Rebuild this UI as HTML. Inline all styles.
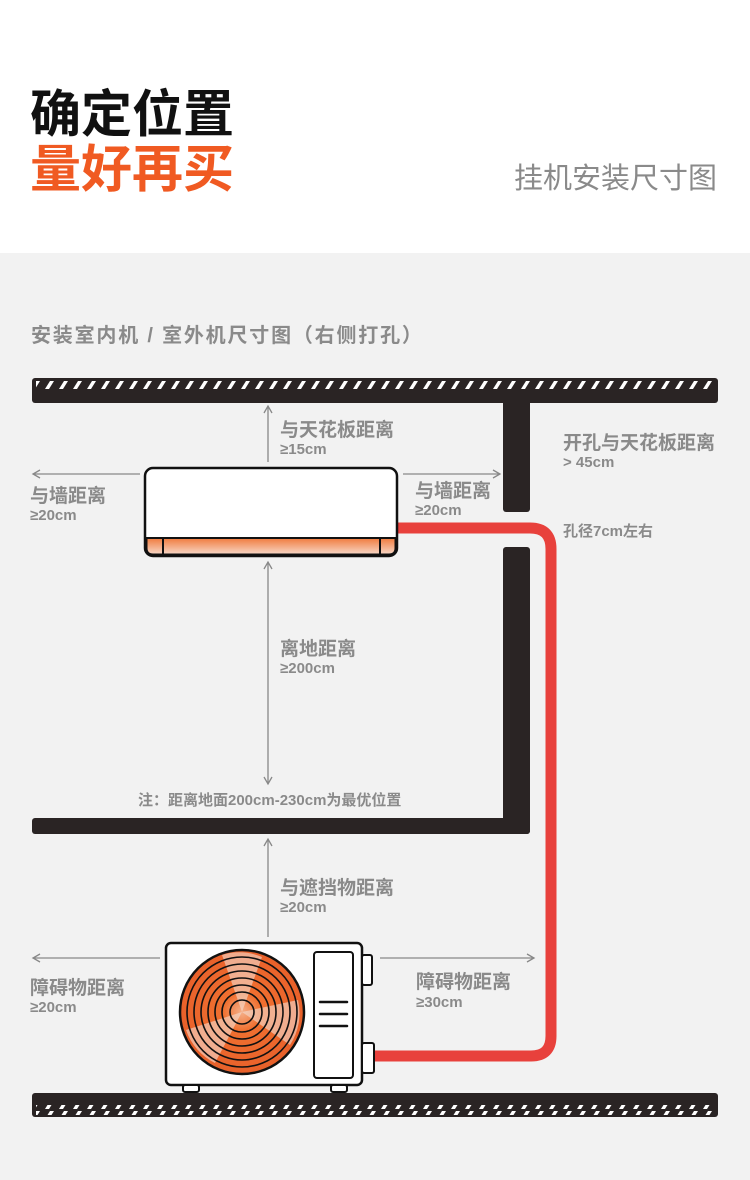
<!DOCTYPE html>
<html><head><meta charset="utf-8"><style>
html,body{margin:0;padding:0;background:#fff}
svg{display:block}
text{font-family:"Liberation Sans","Noto Sans CJK SC",sans-serif}
</style></head><body>
<svg width="750" height="1180" viewBox="0 0 750 1180" xmlns="http://www.w3.org/2000/svg">
<defs>
<pattern id="hatch" width="14" height="10" patternUnits="userSpaceOnUse">
<rect width="14" height="10" fill="#2a2424"/>
<polygon points="3,9 8,1 12,1 7,9" fill="#fff"/>
</pattern>
<linearGradient id="og" x1="0" y1="0" x2="0" y2="1"><stop offset="0" stop-color="#f07a3c"/><stop offset="1" stop-color="#f7d8c8"/></linearGradient>
<radialGradient id="fg" cx="0.5" cy="0.5" r="0.5"><stop offset="0" stop-color="#f4b08a"/><stop offset="0.3" stop-color="#f07030"/><stop offset="1" stop-color="#e8602a"/></radialGradient>
<marker id="ah" markerWidth="10" markerHeight="10" refX="8" refY="5" orient="auto-start-reverse" markerUnits="userSpaceOnUse"><path d="M1,1 L8,5 L1,9" fill="none" stroke="#888" stroke-width="1.3"/></marker>
</defs>
<rect x="0" y="0" width="750" height="253" fill="#fff"/>
<rect x="0" y="253" width="750" height="927" fill="#f2f2f2"/>

<text x="30" y="132" font-size="51" font-weight="bold" fill="#111">确定位置</text>
<text x="30" y="187" font-size="51" font-weight="bold" fill="#f05a22">量好再买</text>
<text x="514" y="188" font-size="29" fill="#8a8a8a">挂机安装尺寸图</text>
<text x="31" y="342" font-size="20" font-weight="bold" fill="#8a8a8a" letter-spacing="1.8">安装室内机 / 室外机尺寸图（右侧打孔）</text>

<!-- ceiling -->
<rect x="32" y="378" width="686" height="25" rx="3" fill="#2a2424"/>
<rect x="36" y="379" width="678" height="10" fill="url(#hatch)"/>
<rect x="503" y="400" width="27" height="112" rx="3" fill="#2a2424"/>
<!-- wall lower + shelf -->
<rect x="503" y="547" width="27" height="287" rx="3" fill="#2a2424"/>
<rect x="32" y="818" width="498" height="16" rx="3" fill="#2a2424"/>
<!-- floor -->
<rect x="32" y="1093" width="686" height="24" rx="3" fill="#2a2424"/>
<rect x="36" y="1105" width="678" height="10" fill="url(#hatch)"/>

<!-- red pipe -->
<path d="M397,528 L530,528 Q551,528 551,549 L551,1036 Q551,1056 531,1056 L372,1056" fill="none" stroke="#e8413c" stroke-width="11"/>

<!-- indoor unit -->
<rect x="145" y="468" width="252" height="88" rx="8" fill="#fff" stroke="#111" stroke-width="2.5"/>
<path d="M146.5,538 L395.5,538 L395.5,548 Q395.5,554.5 389,554.5 L153,554.5 Q146.5,554.5 146.5,548 Z" fill="url(#og)" stroke="#111" stroke-width="2"/>
<line x1="163" y1="538" x2="163" y2="555" stroke="#111" stroke-width="2"/>
<line x1="380" y1="538" x2="380" y2="555" stroke="#111" stroke-width="2"/>

<!-- outdoor unit -->
<rect x="166" y="943" width="196" height="142" rx="5" fill="#fff" stroke="#111" stroke-width="2.5"/>
<rect x="183" y="1085" width="16" height="7" rx="2" fill="#fff" stroke="#111" stroke-width="2"/>
<rect x="331" y="1085" width="16" height="7" rx="2" fill="#fff" stroke="#111" stroke-width="2"/>
<rect x="362" y="955" width="10" height="30" rx="2" fill="#fff" stroke="#111" stroke-width="2"/>
<rect x="362" y="1043" width="12" height="30" rx="2" fill="#fff" stroke="#111" stroke-width="2"/>
<rect x="314" y="952" width="39" height="126" rx="3" fill="#fff" stroke="#111" stroke-width="2"/>
<line x1="320" y1="1002" x2="347" y2="1002" stroke="#111" stroke-width="2.5" stroke-linecap="round"/>
<line x1="320" y1="1014" x2="347" y2="1014" stroke="#111" stroke-width="2.5" stroke-linecap="round"/>
<line x1="320" y1="1026" x2="347" y2="1026" stroke="#111" stroke-width="2.5" stroke-linecap="round"/>
<circle cx="242" cy="1012" r="62" fill="url(#fg)" stroke="#111" stroke-width="2.5"/>
<path d="M242,1012 L222,955 A58,58 0 0,1 262,957 Z M242,1012 L298,1000 A58,58 0 0,1 290,1045 Z M242,1012 L215,1063 A58,58 0 0,1 186,1030 Z" fill="#f3ddd2" opacity="0.6"/>
<g fill="none" stroke="#111" stroke-width="1.6">
<circle cx="242" cy="1012" r="55"/><circle cx="242" cy="1012" r="48"/><circle cx="242" cy="1012" r="41"/>
<circle cx="242" cy="1012" r="34"/><circle cx="242" cy="1012" r="27"/><circle cx="242" cy="1012" r="20"/><circle cx="242" cy="1012" r="12"/>
</g>

<!-- arrows -->
<g stroke="#888" stroke-width="1.3" fill="none">
<line x1="268" y1="462" x2="268" y2="406" marker-end="url(#ah)"/>
<line x1="140" y1="474" x2="33" y2="474" marker-end="url(#ah)"/>
<line x1="403" y1="474" x2="500" y2="474" marker-end="url(#ah)"/>
<line x1="268" y1="562" x2="268" y2="784" marker-start="url(#ah)" marker-end="url(#ah)"/>
<line x1="268" y1="937" x2="268" y2="839" marker-end="url(#ah)"/>
<line x1="160" y1="958" x2="33" y2="958" marker-end="url(#ah)"/>
<line x1="380" y1="958" x2="534" y2="958" marker-end="url(#ah)"/>
</g>

<g fill="#8a8a8a" font-weight="bold">
<text x="280" y="436" font-size="19">与天花板距离</text>
<text x="280" y="454" font-size="15">≥15cm</text>
<text x="563" y="449" font-size="19">开孔与天花板距离</text>
<text x="563" y="467" font-size="15">&gt; 45cm</text>
<text x="30" y="502" font-size="19">与墙距离</text>
<text x="30" y="520" font-size="15">≥20cm</text>
<text x="415" y="497" font-size="19">与墙距离</text>
<text x="415" y="515" font-size="15">≥20cm</text>
<text x="563" y="536" font-size="15">孔径7cm左右</text>
<text x="280" y="655" font-size="19">离地距离</text>
<text x="280" y="673" font-size="15">≥200cm</text>
<text x="138" y="805" font-size="15">注：距离地面200cm-230cm为最优位置</text>
<text x="280" y="894" font-size="19">与遮挡物距离</text>
<text x="280" y="912" font-size="15">≥20cm</text>
<text x="30" y="994" font-size="19">障碍物距离</text>
<text x="30" y="1012" font-size="15">≥20cm</text>
<text x="416" y="988" font-size="19">障碍物距离</text>
<text x="416" y="1007" font-size="15">≥30cm</text>
</g>
</svg>
</body></html>
